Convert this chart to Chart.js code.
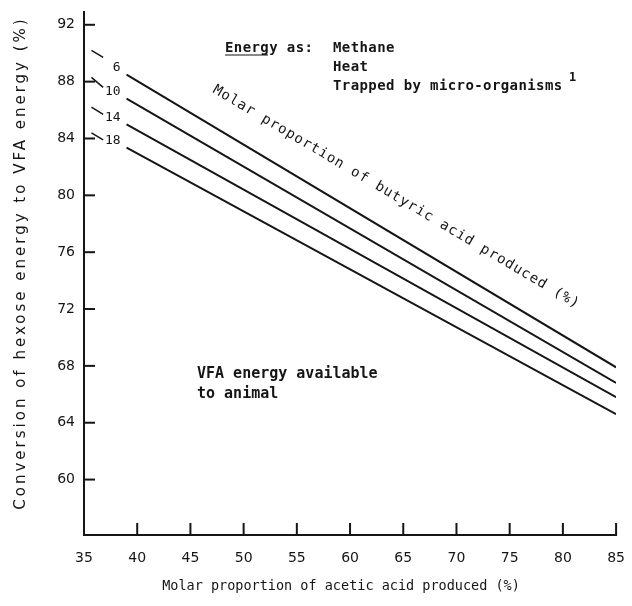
<!DOCTYPE html>
<html>
<head>
<meta charset="utf-8">
<script src="https://cdn.jsdelivr.net/npm/chart.js@4"></script>
<style>
  body { margin: 0; background: #fff; }
  #chart { display: block; }
</style>
</head>
<body>
<canvas id="chart" width="632" height="606"></canvas>
<script>
// acetic acid (x) at the two ends of each line
const acetic = [39, 85];
// butyric acid levels (line labels)
const butyric = ['6', '10', '14', '18'];
// conversion of hexose energy to VFA energy (%) at those ends
const conv6 = [88.5, 67.9];
const conv10 = [86.8, 66.8];
const conv14 = [85.0, 65.8];
const conv18 = [83.35, 64.6];
// short dashed stubs next to the y axis
const stubX = [35.7, 36.8];
const stub6 = [90.2, 89.7];
const stub10 = [88.3, 87.6];
const stub14 = [86.2, 85.7];
const stub18 = [84.4, 83.9];

const xTicks = [35, 40, 45, 50, 55, 60, 65, 70, 75, 80, 85];
const yTicks = [60, 64, 68, 72, 76, 80, 84, 88, 92];

const ink = '#151515';
const mono = '"DejaVu Sans Mono", "Liberation Mono", monospace';

function pts(xs, ys) {
    return xs.map(function (x, i) { return { x: x, y: ys[i] }; });
}

const lineSets = [conv6, conv10, conv14, conv18].map(function (ys, i) {
    return {
        label: butyric[i],
        data: pts(acetic, ys),
        borderColor: ink,
        borderWidth: 2,
        pointRadius: 0,
        tension: 0
    };
});
const stubSets = [stub6, stub10, stub14, stub18].map(function (ys, i) {
    return {
        label: 'stub' + butyric[i],
        data: pts(stubX, ys),
        borderColor: ink,
        borderWidth: 1.5,
        pointRadius: 0
    };
});

const marks = {
    id: 'marks',
    afterDraw: function (chart) {
        const ctx = chart.ctx;
        const xs = chart.scales.x, ys = chart.scales.y;
        const a = chart.chartArea;
        ctx.save();
        ctx.strokeStyle = ink;
        ctx.lineWidth = 2;
        // inner ticks
        xTicks.forEach(function (v) {
            const px = xs.getPixelForValue(v);
            ctx.beginPath(); ctx.moveTo(px, a.bottom); ctx.lineTo(px, a.bottom - 12); ctx.stroke();
        });
        yTicks.forEach(function (v) {
            const py = ys.getPixelForValue(v);
            ctx.beginPath(); ctx.moveTo(a.left, py); ctx.lineTo(a.left + 11, py); ctx.stroke();
        });
        ctx.fillStyle = ink;
        // line labels
        ctx.font = '13px ' + mono;
        ctx.textAlign = 'right';
        ctx.textBaseline = 'middle';
        lineSets.forEach(function (ds, i) {
            const p = chart.getDatasetMeta(i).data[0];
            ctx.fillText(ds.label, p.x - 6, p.y - 7);
        });
        // energy annotation
        ctx.textAlign = 'left';
        ctx.textBaseline = 'alphabetic';
        ctx.font = 'bold 14px ' + mono;
        ctx.letterSpacing = '0.4px';
        ctx.fillText('Energy as:', 225, 52);
        ctx.fillText('Methane', 333, 52);
        ctx.fillText('Heat', 333, 71);
        ctx.fillText('Trapped by micro-organisms', 333, 90);
        ctx.font = 'bold 12px ' + mono;
        ctx.fillText('1', 569, 81);
        ctx.beginPath(); ctx.lineWidth = 1.2;
        ctx.moveTo(225, 55); ctx.lineTo(268, 55); ctx.stroke();
        ctx.letterSpacing = '0px';
        // VFA annotation
        ctx.font = 'bold 15px ' + mono;
        ctx.fillText('VFA energy available', 197, 378);
        ctx.fillText('to animal', 197, 398);
        // rotated butyric label
        ctx.save();
        ctx.translate(212, 92);
        ctx.rotate(Math.atan2(215, 362));
        ctx.font = '14px ' + mono;
        ctx.letterSpacing = '1px';
        ctx.fillText('Molar proportion of butyric acid produced (%)', 0, 0);
        ctx.restore();
        // axis titles
        ctx.font = '13.5px ' + mono;
        ctx.textAlign = 'center';
        ctx.fillText('Molar proportion of acetic acid produced (%)', 341, 590);
        ctx.save();
        ctx.translate(25, 263);
        ctx.rotate(-Math.PI / 2);
        ctx.font = '15px "DejaVu Sans", sans-serif';
        ctx.letterSpacing = '3px';
        ctx.fillText('Conversion of hexose energy to VFA energy (%)', 0, 0);
        ctx.restore();
        ctx.restore();
    }
};

new Chart(document.getElementById('chart').getContext('2d'), {
    type: 'line',
    data: { datasets: lineSets.concat(stubSets) },
    options: {
        responsive: false,
        animation: false,
        layout: { padding: { top: 12, right: 15, left: 0, bottom: 0 } },
        plugins: { legend: { display: false }, tooltip: { enabled: false } },
        scales: {
            x: {
                type: 'linear',
                min: 35,
                max: 85,
                afterBuildTicks: function (axis) { axis.ticks = xTicks.map(function (v) { return { value: v }; }); },
                afterFit: function (axis) { axis.height = 71; },
                grid: { display: false },
                border: { color: ink, width: 2 },
                ticks: { color: ink, padding: 7, font: { size: 14, family: '"DejaVu Sans", sans-serif' }, maxRotation: 0 }
            },
            y: {
                min: 56.1,
                max: 92.9,
                afterBuildTicks: function (axis) { axis.ticks = yTicks.map(function (v) { return { value: v }; }); },
                afterFit: function (axis) { axis.width = 84; },
                grid: { display: false },
                border: { color: ink, width: 2 },
                ticks: { color: ink, padding: 1, font: { size: 14, family: '"DejaVu Sans", sans-serif' } }
            }
        }
    },
    plugins: [marks]
});
</script>
</body>
</html>
